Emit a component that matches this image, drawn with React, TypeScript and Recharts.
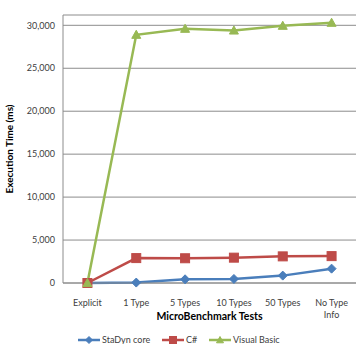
import React from 'react';
import { LineChart, Line, XAxis, YAxis, CartesianGrid } from 'recharts';

const categories = ['Explicit', '1 Type', '5 Types', '10 Types', '50 Types', 'No Type Info'];
const stadyn = [0, 50, 430, 470, 860, 1670];
const csharp = [0, 2900, 2880, 2950, 3100, 3130];
const vb = [0, 28900, 29600, 29400, 29950, 30300];
const yTicks = [0, 5000, 10000, 15000, 20000, 25000, 30000];

const seriesInfo = [
  { key: 'stadyn', name: 'StaDyn core', color: '#4a7ebb', shape: 'diamond' },
  { key: 'csharp', name: 'C#', color: '#be4b48', shape: 'square' },
  { key: 'vb', name: 'Visual Basic', color: '#98b954', shape: 'triangle' },
];

const data = categories.map((c, i) => ({ cat: c, stadyn: stadyn[i], csharp: csharp[i], vb: vb[i] }));

const FONT = 'Lato, "Open Sans", sans-serif';

function Marker({ cx, cy, shape, color, s = 4.5 }: any) {
  if (cx == null || cy == null) return null;
  if (shape === 'diamond') {
    return <path d={`M${cx},${cy - s} L${cx + s},${cy} L${cx},${cy + s} L${cx - s},${cy} Z`} fill={color} stroke={color} />;
  }
  if (shape === 'square') {
    return <rect x={cx - s} y={cy - s} width={2 * s} height={2 * s} fill={color} stroke={color} />;
  }
  return <path d={`M${cx},${cy - s} L${cx + s},${cy + s * 0.8} L${cx - s},${cy + s * 0.8} Z`} fill={color} stroke={color} />;
}

function XTick({ x, y, payload }: any) {
  const v: string = payload.value;
  let lines = [v];
  if (v.length > 10) {
    const idx = v.lastIndexOf(' ');
    lines = [v.slice(0, idx), v.slice(idx + 1)];
  }
  return (
    <text x={x} y={y} textAnchor="middle" fontFamily={FONT} fontSize={9} fill="#404040">
      {lines.map((l, i) => (
        <tspan key={i} x={x} dy={i === 0 ? 15 : 12}>{l}</tspan>
      ))}
    </text>
  );
}

function LegendBox() {
  const items = [
    { ...seriesInfo[0], lx: 78, w: 22 },
    { ...seriesInfo[1], lx: 162, w: 22 },
    { ...seriesInfo[2], lx: 209, w: 22 },
  ];
  return (
    <svg width={360} height={16} style={{ position: 'absolute', left: 0, top: 332, display: 'block' }}>
      {items.map((it) => (
        <g key={it.key}>
          <line x1={it.lx} x2={it.lx + it.w} y1={8} y2={8} stroke={it.color} strokeWidth={2.5} />
          <Marker cx={it.lx + it.w / 2} cy={8} shape={it.shape} color={it.color} s={3.5} />
          <text x={it.lx + it.w + 2} y={11} fontFamily={FONT} fontSize={9} fill="#404040">{it.name}</text>
        </g>
      ))}
    </svg>
  );
}

export default function App() {
  return (
    <div style={{ position: 'absolute', left: 0, top: 0, width: 360, height: 344, background: '#fff', overflow: 'hidden' }}>
      <LineChart width={360} height={344} data={data} margin={{ top: 15, right: 4, left: 0, bottom: 16 }}>
        <CartesianGrid vertical={false} stroke="#8c8c8c" strokeWidth={1} />
        <XAxis
          dataKey="cat"
          scale="band"
          tick={<XTick />}
          tickLine={false}
          axisLine={{ stroke: '#8c8c8c' }}
          height={45}
          interval={0}
          label={{ value: 'MicroBenchmark Tests', position: 'insideBottom', offset: 8, fontFamily: FONT, fontSize: 10.5, fontWeight: 'bold', fill: '#000' }}
        />
        <YAxis
          domain={[0, 31200]}
          ticks={yTicks}
          width={63}
          tickLine={false}
          axisLine={{ stroke: '#8c8c8c' }}
          tick={{ fontFamily: FONT, fontSize: 9, fill: '#404040' }}
          tickFormatter={(v: number) => v.toLocaleString('en-US')}
          label={{ value: 'Execution Time (ms)', angle: -90, position: 'insideLeft', offset: 9, style: { textAnchor: 'middle' }, fontFamily: FONT, fontSize: 10, fontWeight: 'bold', fill: '#000' }}
        />
        {seriesInfo.map((s) => (
          <Line
            key={s.key}
            type="linear"
            dataKey={s.key}
            name={s.name}
            stroke={s.color}
            strokeWidth={2.5}
            isAnimationActive={false}
            dot={(p: any) => <Marker key={p.index} cx={p.cx} cy={p.cy} shape={s.shape} color={s.color} />}
          />
        ))}
      </LineChart>
      <LegendBox />
    </div>
  );
}
